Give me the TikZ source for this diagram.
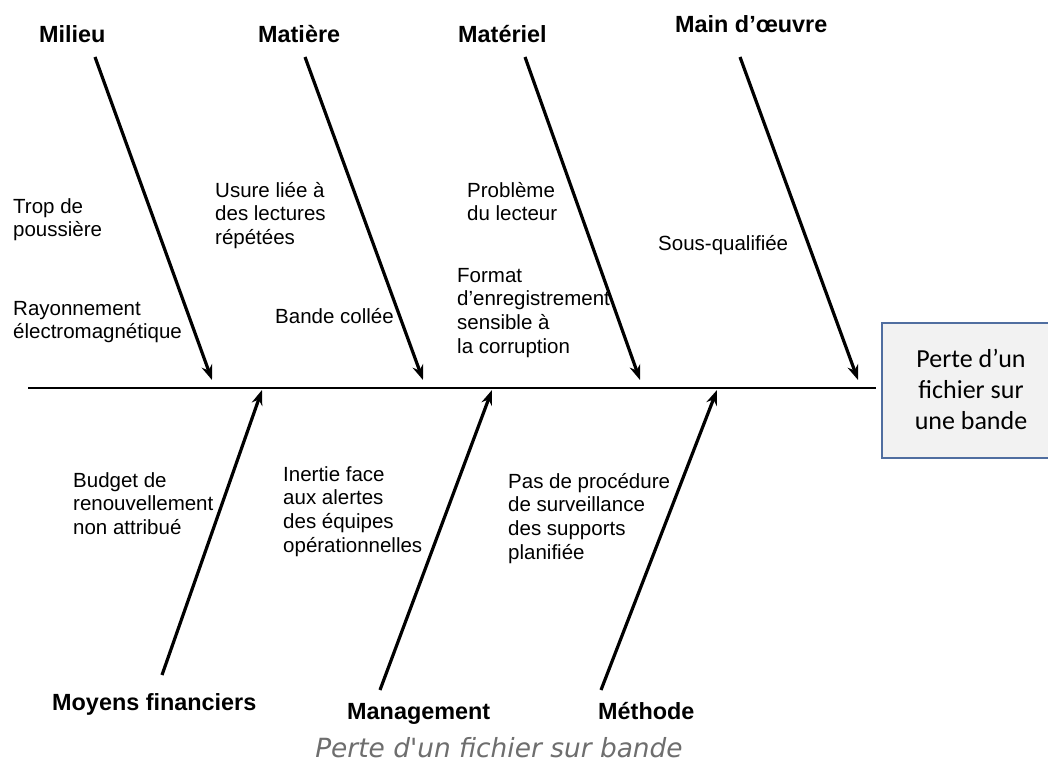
\documentclass[tikz,border=0pt]{standalone}
\usepackage{fontspec}
\setmainfont{Liberation Sans}
\newfontfamily\calfont{Carlito}
\newfontfamily\capfont{DejaVu Sans}
\usetikzlibrary{arrows.meta}
\definecolor{boxborder}{RGB}{80,110,160}
\definecolor{boxfill}{RGB}{242,242,242}
\definecolor{capgray}{RGB}{110,110,110}
\newcommand\txtl[1]{\begin{tabular}[t]{@{}l@{}}#1\end{tabular}}
\newcommand\txtc[1]{\begin{tabular}[t]{@{}c@{}}#1\end{tabular}}
\begin{document}
\begin{tikzpicture}[x=1pt,y=-1pt,
  cat/.style={font=\fontsize{23.4}{27}\selectfont\bfseries, inner sep=0pt, anchor=base west},
  cause/.style={font=\fontsize{20.5}{23.7}\selectfont, inner sep=0pt, anchor=base west},
  bone/.style={line width=3.2pt, -{Stealth[length=15pt,width=11pt]}},
  spine/.style={line width=2pt},
  effectbox/.style={draw=boxborder, fill=boxfill, line width=1.5pt, inner sep=0pt, anchor=north west, minimum width=190pt, minimum height=135pt},
]
\useasboundingbox (0,0) rectangle (1048,765);
\fill[white] (0,0) rectangle (1048,765);

% effect box (clipped at the right edge)
\begin{scope}
\clip (0,0) rectangle (1048,765);
\node[effectbox] (effect) at (881,322) {};
\end{scope}
\node[font=\calfont\fontsize{26}{31}\selectfont, inner sep=0pt, anchor=base] (effecttxt) at (971,367) {\txtc{Perte d’un\\fichier sur\\une bande}};

% spine
\coordinate (s0) at (28,388);
\coordinate (s1) at (876,388);
\draw[spine] (s0) -- (s1);

% bone coordinates
\coordinate (a1) at (95,57);   \coordinate (b1) at (212,380);
\coordinate (a2) at (305,57);  \coordinate (b2) at (423,380);
\coordinate (a3) at (525,57);  \coordinate (b3) at (640,380);
\coordinate (a4) at (740,57);  \coordinate (b4) at (858,380);
\coordinate (a5) at (162,675); \coordinate (b5) at (262,390);
\coordinate (a6) at (380,690); \coordinate (b6) at (492,390);
\coordinate (a7) at (601,690); \coordinate (b7) at (717,390);

\draw[bone] (a1) -- (b1);
\draw[bone] (a2) -- (b2);
\draw[bone] (a3) -- (b3);
\draw[bone] (a4) -- (b4);
\draw[bone] (a5) -- (b5);
\draw[bone] (a6) -- (b6);
\draw[bone] (a7) -- (b7);

% category labels
\node[cat] (milieu) at (39,43) {Milieu};
\node[cat] (matiere) at (258,43) {Matière};
\node[cat] (materiel) at (458,43) {Matériel};
\node[cat] (main) at (675,33) {Main d'œuvre};
\node[cat] (moyens) at (52,710) {Moyens financiers};
\node[cat] (management) at (347,719) {Management};
\node[cat] (methode) at (598,719) {Méthode};

% causes
\node[cause] (c1) at (13,213) {\txtl{Trop de\\poussière}};
\node[cause] (c2) at (13,315) {\txtl{Rayonnement\\électromagnétique}};
\node[cause] (c3) at (215,197) {\txtl{Usure liée à\\des lectures\\répétées}};
\node[cause] (c4) at (275,323) {Bande collée};
\node[cause] (c5) at (467,197) {\txtl{Problème\\du lecteur}};
\node[cause] (c6) at (457,282) {\txtl{Format\\d'enregistrement\\sensible à\\la corruption}};
\node[cause] (c7) at (658,250) {Sous-qualifiée};
\node[cause] (c8) at (73,487) {\txtl{Budget de\\renouvellement\\non attribué}};
\node[cause] (c9) at (283,481) {\txtl{Inertie face\\aux alertes\\des équipes\\opérationnelles}};
\node[cause] (c10) at (508,488) {\txtl{Pas de procédure\\de surveillance\\des supports\\planifiée}};

% caption
\node[font=\capfont\itshape\fontsize{26.4}{30}\selectfont, text=capgray, inner sep=0pt, anchor=base] (caption) at (499,757) {Perte d'un fichier sur bande};
\end{tikzpicture}
\end{document}
